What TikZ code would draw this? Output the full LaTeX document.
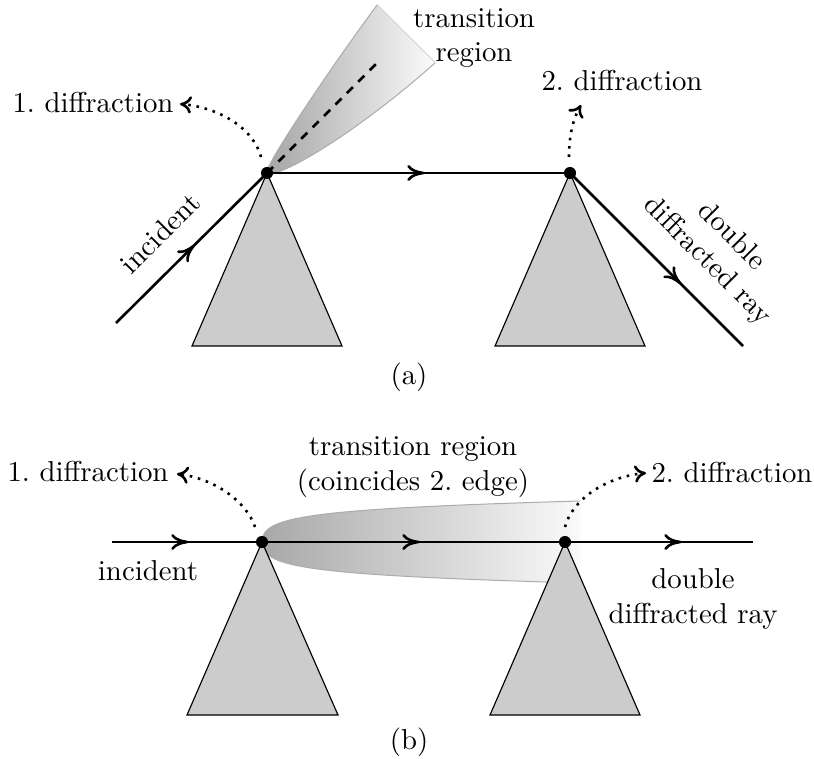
\documentclass[tikz,border=0pt]{standalone}
\usetikzlibrary{arrows.meta,decorations.markings}
\begin{document}
\begin{tikzpicture}[x={(0.3472pt,0)}, y={(0,-0.3472pt)},
  ray/.style={line width=0.9pt},
  midarrow/.style={postaction={decorate},decoration={markings,mark=at position #1 with {\arrow{To[length=6pt,width=5.5pt]}}}},
  rim/.style={draw=gray!65, line width=0.35pt},
  block/.style={draw=black, line width=0.4pt, fill=black!20},
  dotnode/.style={circle, fill=black, inner sep=0pt, minimum size=4.2pt},
  hint/.style={line width=0.9pt, dotted, -{To[length=4pt,width=6pt]}},
  lbl/.style={inner sep=0pt, align=center}]
\useasboundingbox (0,0) rectangle (814,758);

% ---------------- (a) ----------------
\coordinate (E1a) at (267,173);
\coordinate (E2a) at (570,173);
\shade[left color=gray!72, right color=gray!3]
  (E1a) .. controls (262.8,168.8) and (325.0,75.4) .. (377.3,4.7)
  -- (435.3,62.7) .. controls (347.6,140.5) and (274.1,180.1) .. (E1a) -- cycle;
\draw[rim] (E1a) .. controls (262.8,168.8) and (325.0,75.4) .. (377.3,4.7);
\draw[rim] (E1a) .. controls (274.1,180.1) and (347.6,140.5) .. (435.3,62.7);
\draw[draw=gray!30, line width=0.35pt] (377.3,4.7) -- (435.3,62.7);
\coordinate (DAend) at (381,59);
\draw[line width=0.9pt, dash pattern=on 3pt off 2.6pt] (E1a) -- (DAend);

\draw[block] (E1a) -- (192,346) -- (342,346) -- cycle;
\draw[block] (E2a) -- (495,346) -- (645,346) -- cycle;

\coordinate (INa) at (116,323);
\coordinate (OUTa) at (743,346);
\node[dotnode] (D1a) at (E1a) {};
\node[dotnode] (D2a) at (E2a) {};
\draw[ray, midarrow=0.52] (INa) -- (D1a.center);
\draw[ray, midarrow=0.52] (D1a.center) -- (D2a.center);
\draw[ray, midarrow=0.64] (D2a.center) -- (OUTa);

\node[lbl] (d1a) at (93,103) {1.\ diffraction};
\node[lbl] (tra) at (474,38) {transition\\region};
\node[lbl] (d2a) at (622,81) {2.\ diffraction};
\node[lbl, rotate=45] (inca) at (160,233) {incident};
\node[lbl, rotate=-45] (dda) at (719,249) {double\\diffracted ray};
\node[lbl] (capa) at (409,377) {(a)};

\coordinate (h1a) at (261,157);
\coordinate (t1a) at (180,104);
\draw[hint] (h1a) .. controls (252,125) and (215,107) .. (t1a);
\coordinate (h2a) at (569,157);
\coordinate (t2a) at (581,105);
\draw[hint] (h2a) .. controls (569,136) and (573,119) .. (t2a);

% ---------------- (b) ----------------
\coordinate (E1b) at (262,542);
\coordinate (E2b) at (565,542);
\shade[left color=gray!68, right color=gray!4]
  (E1b) .. controls (262,517) and (302,509) .. (580,501)
  -- (580,583) .. controls (302,575) and (262,567) .. (E1b) -- cycle;
\draw[rim] (E1b) .. controls (262,517) and (302,509) .. (580,501);
\draw[rim] (E1b) .. controls (262,567) and (302,575) .. (580,583);

\draw[block] (E1b) -- (187,715) -- (338,715) -- cycle;
\draw[block] (E2b) -- (490,715) -- (640,715) -- cycle;

\coordinate (INb) at (112,542);
\coordinate (OUTb) at (753,542);
\node[dotnode] (D1b) at (E1b) {};
\node[dotnode] (D2b) at (E2b) {};
\draw[ray, midarrow=0.51] (INb) -- (D1b.center);
\draw[ray, midarrow=0.52] (D1b.center) -- (D2b.center);
\draw[ray, midarrow=0.62] (D2b.center) -- (OUTb);

\node[lbl] (d1b) at (88,472) {1.\ diffraction};
\node[lbl] (trb) at (413,467) {transition region\\(coincides 2.\ edge)};
\node[lbl] (d2b) at (732,473) {2.\ diffraction};
\node[lbl] (incb) at (148,571) {incident};
\node[lbl] (ddb) at (693,599) {double\\diffracted ray};
\node[lbl] (capb) at (409,742) {(b)};

\coordinate (h1b) at (255,527);
\coordinate (t1b) at (177,474);
\draw[hint] (h1b) .. controls (246,500) and (212,478) .. (t1b);
\coordinate (h2b) at (565,527);
\coordinate (t2b) at (646,473);
\draw[hint] (h2b) .. controls (572,500) and (605,477) .. (t2b);
\end{tikzpicture}
\end{document}
